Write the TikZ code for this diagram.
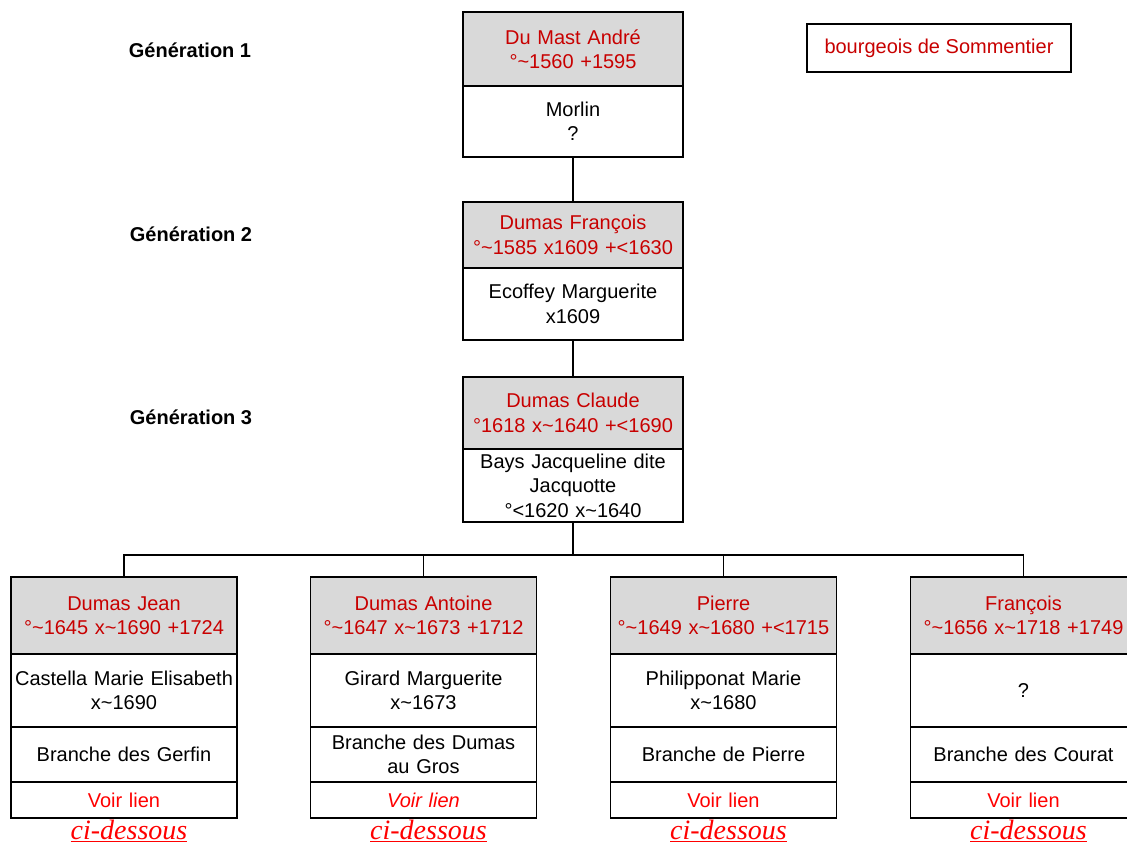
\documentclass[tikz,border=0pt]{standalone}
\usepackage{fontspec}
\setmainfont{Liberation Sans}
\newfontfamily\serifface{Liberation Serif}
\newcommand\tld{\textasciitilde}
\begin{document}
\begin{tikzpicture}[x=1pt,y=1pt,
  txt/.style={font=\fontsize{20}{24.5}\selectfont, align=center, inner sep=0pt},
  cell/.style={txt, draw=black, line width=1.8pt, minimum width=220pt, text width=216pt},
  bcell/.style={cell, minimum width=226pt, text width=224pt},
  namecell/.style={fill=cellgrey, text=namered},
  gen/.style={txt, font=\bfseries\fontsize{20}{24}\selectfont},
  cid/.style={inner sep=0pt, text=linkred, font=\serifface\itshape\fontsize{28}{30}\selectfont},
  conn/.style={line width=1.2pt, draw=black}]
\definecolor{cellgrey}{HTML}{D9D9D9}
\definecolor{namered}{HTML}{C80000}
\definecolor{linkred}{HTML}{FF0000}
\useasboundingbox (0,0) rectangle (1127,-845);
\fill[white] (0,0) rectangle (1127,-845);

% Generation labels
\node[gen] (g1) at (190,-50) {Génération 1};
\node[gen] (g2) at (191,-234) {Génération 2};
\node[gen] (g3) at (191,-417) {Génération 3};

% bourgeois box
\node[txt, draw=black, line width=1.8pt, minimum width=264pt, minimum height=48pt, text=namered] (bourg) at (939,-48) {bourgeois de Sommentier};

% Generation 1
\node[cell, namecell, minimum height=74pt] (a1) at (573,-49) {Du Mast André\\°\tld1560 +1595};
\node[cell, minimum height=71pt] (a2) at (573,-121.5) {Morlin\\?};

% Generation 2
\node[cell, namecell, minimum height=66pt] (b1) at (573,-235) {Dumas François\\°\tld1585 x1609 +<1630};
\node[cell, minimum height=72pt] (b2) at (573,-304) {Ecoffey Marguerite\\x1609};

% Generation 3
\node[cell, namecell, minimum height=72pt] (c1) at (573,-413) {Dumas Claude\\°1618 x\tld1640 +<1690};
\node[cell, minimum height=73pt] (c2) at (573,-485.5) {Bays Jacqueline dite\\Jacquotte\\°<1620 x\tld1640};

% Children
\foreach \n/\cx/\name/\dates/\spouse/\branch/\vl in {
  d/124/{Dumas Jean}/{°\tld1645 x\tld1690 +1724}/{Castella Marie Elisabeth\\x\tld1690}/{Branche des Gerfin}/{Voir lien},
  e/423.5/{Dumas Antoine}/{°\tld1647 x\tld1673 +1712}/{Girard Marguerite\\x\tld1673}/{Branche des Dumas\\au Gros}/{\itshape Voir lien},
  f/723.5/{Pierre}/{°\tld1649 x\tld1680 +<1715}/{Philipponat Marie\\x\tld1680}/{Branche de Pierre}/{Voir lien},
  h/1023.5/{François}/{°\tld1656 x\tld1718 +1749}/{?}/{Branche des Courat}/{Voir lien}}{
  \node[bcell, namecell, minimum height=77pt] (\n1) at (\cx,-615.5) {\name\\\dates};
  \node[bcell, minimum height=73pt] (\n2) at (\cx,-690.5) {\spouse};
  \node[bcell, minimum height=55pt] (\n3) at (\cx,-754.5) {\branch};
  \node[bcell, minimum height=36pt, text=linkred] (\n4) at (\cx,-800) {\vl};
  \node[cid, anchor=base] (\n5) at (\cx+5,-839) {\underline{ci-dessous}};
}

% Connectors
\draw[conn] (a2.south) -- (b1.north);
\draw[conn] (b2.south) -- (c1.north);
\coordinate (bus) at (573,-555);
\draw[conn] (c2.south) -- (bus);
\draw[conn] (bus) -| (d1.north);
\draw[conn] (bus) -| (e1.north);
\draw[conn] (bus) -| (f1.north);
\draw[conn] (bus) -| (h1.north);
\end{tikzpicture}
\end{document}
